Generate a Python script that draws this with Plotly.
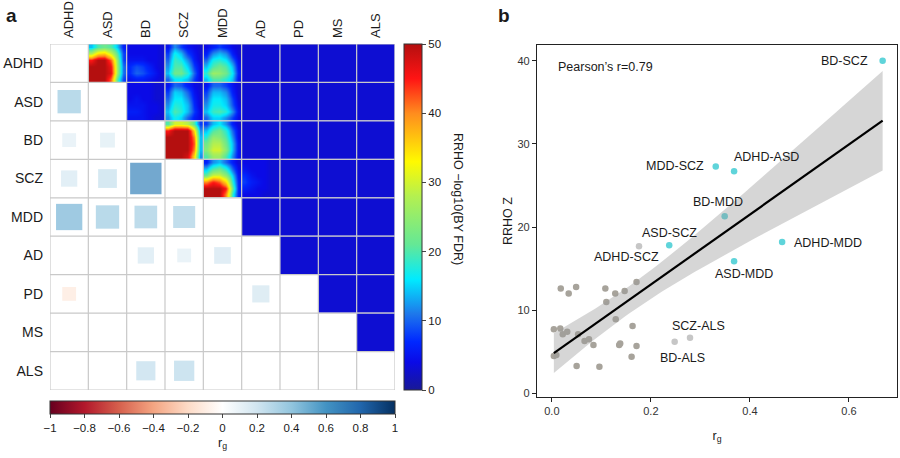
import numpy as np
import plotly.graph_objects as go

FONT = "Liberation Sans, Arial, sans-serif"

traits = ["ADHD", "ASD", "BD", "SCZ", "MDD", "AD", "PD", "MS", "ALS"]

# ---------------------------------------------------------------------------
# panel a, lower triangle: genetic correlation r_g (only the pairs drawn)
# ---------------------------------------------------------------------------
rg_row = ["ASD", "BD", "BD", "SCZ", "SCZ", "SCZ", "MDD", "MDD", "MDD", "MDD",
          "AD", "AD", "AD", "PD", "PD", "ALS", "ALS"]
rg_col = ["ADHD", "ADHD", "ASD", "ADHD", "ASD", "BD", "ADHD", "ASD", "BD", "SCZ",
          "BD", "SCZ", "MDD", "ADHD", "AD", "BD", "SCZ"]
rg_val = [0.37, 0.13, 0.15, 0.18, 0.24, 0.67, 0.47, 0.37, 0.35, 0.33,
          0.18, 0.13, 0.19, -0.13, 0.20, 0.25, 0.28]

# ---------------------------------------------------------------------------
# panel a, upper triangle: RRHO -log10(BY FDR) maps, 6x6 read off each cell
# (top row first); every other cell is flat at the background level
# ---------------------------------------------------------------------------
rrho_background = 3

rrho_adhd_asd = [[14, 20, 22, 20, 14, 6],
                 [28, 35, 36, 30, 20, 8],
                 [45, 50, 50, 42, 24, 8],
                 [50, 50, 50, 46, 25, 10],
                 [50, 50, 50, 47, 25, 10],
                 [50, 50, 50, 42, 20, 8]]
rrho_adhd_bd = [[4, 4, 4, 4, 4, 3],
                [4, 4, 4, 4, 4, 3],
                [5, 5, 5, 4, 4, 3],
                [7, 9, 8, 6, 4, 3],
                [7, 10, 9, 7, 5, 3],
                [5, 6, 6, 5, 4, 3]]
rrho_adhd_scz = [[5, 12, 8, 5, 4, 3],
                 [8, 17, 14, 8, 5, 3],
                 [10, 19, 17, 12, 6, 3],
                 [12, 20, 20, 15, 8, 4],
                 [14, 22, 22, 18, 10, 4],
                 [10, 16, 16, 14, 8, 4]]
rrho_adhd_mdd = [[4, 6, 8, 6, 4, 3],
                 [6, 12, 14, 12, 6, 3],
                 [10, 17, 18, 16, 10, 4],
                 [14, 20, 22, 20, 14, 5],
                 [18, 26, 25, 22, 16, 6],
                 [14, 20, 20, 18, 14, 5]]
rrho_asd_bd = [[4, 4, 4, 4, 3, 3],
               [4, 4, 4, 4, 3, 3],
               [4, 5, 4, 4, 3, 3],
               [5, 5, 5, 4, 4, 3],
               [6, 6, 5, 4, 4, 3],
               [5, 5, 5, 4, 3, 3]]
rrho_asd_scz = [[5, 10, 9, 6, 4, 3],
                [8, 15, 14, 10, 5, 3],
                [10, 16, 16, 12, 6, 3],
                [12, 18, 17, 14, 7, 3],
                [14, 20, 18, 14, 8, 4],
                [12, 17, 15, 10, 6, 4]]
rrho_asd_mdd = [[5, 10, 10, 8, 5, 3],
                [8, 14, 14, 12, 6, 3],
                [10, 16, 16, 14, 8, 3],
                [12, 17, 17, 15, 9, 4],
                [14, 19, 20, 18, 12, 5],
                [10, 15, 15, 12, 8, 4]]
rrho_bd_scz = [[20, 30, 30, 28, 20, 8],
               [45, 50, 50, 50, 35, 12],
               [50, 50, 50, 50, 40, 14],
               [50, 50, 50, 50, 42, 14],
               [50, 50, 50, 50, 40, 14],
               [50, 50, 50, 48, 35, 12]]
rrho_bd_mdd = [[8, 14, 16, 12, 6, 3],
               [14, 20, 22, 18, 10, 4],
               [18, 25, 24, 20, 12, 4],
               [22, 28, 28, 22, 14, 5],
               [24, 30, 30, 24, 14, 5],
               [20, 26, 26, 20, 12, 5]]
rrho_scz_mdd = [[6, 12, 14, 10, 6, 3],
                [14, 20, 22, 18, 10, 4],
                [22, 30, 30, 25, 15, 5],
                [40, 45, 42, 35, 18, 6],
                [50, 50, 50, 45, 22, 6],
                [50, 50, 50, 40, 18, 6]]
rrho_scz_ad = [[4, 4, 4, 4, 3, 3],
               [5, 4, 4, 4, 3, 3],
               [7, 5, 4, 4, 3, 3],
               [8, 6, 5, 4, 3, 3],
               [6, 5, 4, 4, 3, 3],
               [4, 4, 4, 3, 3, 3]]

rrho_maps = {
    ("ADHD", "ASD"): rrho_adhd_asd, ("ADHD", "BD"): rrho_adhd_bd,
    ("ADHD", "SCZ"): rrho_adhd_scz, ("ADHD", "MDD"): rrho_adhd_mdd,
    ("ASD", "BD"): rrho_asd_bd, ("ASD", "SCZ"): rrho_asd_scz,
    ("ASD", "MDD"): rrho_asd_mdd, ("BD", "SCZ"): rrho_bd_scz,
    ("BD", "MDD"): rrho_bd_mdd, ("SCZ", "MDD"): rrho_scz_mdd,
    ("SCZ", "AD"): rrho_scz_ad,
}

# ---------------------------------------------------------------------------
# panel b: r_g vs RRHO Z
# ---------------------------------------------------------------------------
sig_pairs = ["BD-SCZ", "MDD-SCZ", "ADHD-ASD", "BD-MDD", "ASD-SCZ", "ADHD-MDD", "ASD-MDD"]
sig_rg = [0.668, 0.331, 0.368, 0.349, 0.237, 0.465, 0.368]
sig_z = [40.0, 27.3, 26.7, 21.3, 17.8, 18.2, 15.9]

lab_pairs = ["ADHD-SCZ", "SCZ-ALS", "BD-ALS"]
lab_rg = [0.176, 0.279, 0.248]
lab_z = [17.7, 6.7, 6.2]

other_rg = [0.018, 0.034, 0.049, 0.108, 0.128, 0.147, 0.171, 0.110, 0.129, 0.163,
            0.004, 0.017, 0.022, 0.031, 0.053, 0.066, 0.075, 0.084, 0.136, 0.138,
            0.171, 0.004, 0.009, 0.161, 0.050, 0.096]
other_z = [12.6, 12.0, 12.8, 12.6, 12.0, 12.3, 13.4, 11.0, 8.9, 8.1,
           7.7, 7.8, 7.1, 7.4, 7.1, 6.3, 6.5, 5.8, 5.8, 6.0,
           5.7, 4.5, 4.6, 4.4, 3.3, 3.2]

# label placement next to each point: (xanchor, xshift px, yshift px)
label_pos = {
    "BD-SCZ": ("right", -13, 0), "MDD-SCZ": ("right", -10, 0),
    "ADHD-ASD": ("left", -2, 14), "BD-MDD": ("center", -7, 14),
    "ASD-SCZ": ("center", 0, 12), "ADHD-MDD": ("left", 10, -1),
    "ASD-MDD": ("center", 10, -13), "ADHD-SCZ": ("center", -13, -11),
    "SCZ-ALS": ("center", 8, 12), "BD-ALS": ("center", 8, -16),
}

jet = [[0.0, "rgb(25,25,150)"], [0.08, "rgb(10,10,230)"], [0.14, "rgb(0,40,255)"],
       [0.22, "rgb(30,120,235)"], [0.32, "rgb(0,235,255)"], [0.42, "rgb(100,232,150)"],
       [0.56, "rgb(180,240,80)"], [0.66, "rgb(255,250,0)"], [0.8, "rgb(255,140,30)"],
       [0.9, "rgb(255,20,20)"], [1.0, "rgb(180,15,15)"]]
rdbu = [[0.0, "rgb(103,0,31)"], [0.1, "rgb(178,24,43)"], [0.2, "rgb(214,96,77)"],
        [0.3, "rgb(244,165,130)"], [0.4, "rgb(253,219,199)"], [0.5, "rgb(255,255,255)"],
        [0.6, "rgb(209,229,240)"], [0.7, "rgb(146,197,222)"], [0.8, "rgb(67,147,195)"],
        [0.9, "rgb(33,102,172)"], [1.0, "rgb(5,48,97)"]]

W, H = 900, 458
a_left, a_right, a_top, a_bottom = 50, 395, 44, 390
cell_px = (a_right - a_left) / len(traits)

fig = go.Figure()

# RRHO maps, one heatmap per upper cell
idx = {t: k for k, t in enumerate(traits)}
for i, r in enumerate(traits):
    for j, c in enumerate(traits):
        if j <= i:
            continue
        grid = rrho_maps.get((r, c), [[rrho_background]])
        n = len(grid)
        d = 1.0 / n
        fig.add_trace(go.Heatmap(
            z=grid, x0=j - 0.5 + d / 2, dx=d, y0=i - 0.5 + d / 2, dy=d,
            zsmooth="best" if n > 1 else False, coloraxis="coloraxis",
            xaxis="x", yaxis="y", hoverinfo="skip"))

# r_g squares, side ~ sqrt(|r_g|)
fig.add_trace(go.Scatter(
    x=[idx[c] for c in rg_col], y=[idx[r] for r in rg_row], mode="markers",
    marker=dict(symbol="square", size=[np.sqrt(abs(v)) * cell_px for v in rg_val],
                color=rg_val, coloraxis="coloraxis2", line=dict(width=0)),
    xaxis="x", yaxis="y", showlegend=False,
    hovertemplate="r_g=%{marker.color}<extra></extra>"))

# cell grid
grid_shapes = []
for k in range(len(traits) + 1):
    p = k - 0.5
    grid_shapes.append(dict(type="line", xref="x", yref="y", x0=p, x1=p, y0=-0.5, y1=8.5,
                            line=dict(color="#c9c9c9", width=1.2), layer="above"))
    grid_shapes.append(dict(type="line", xref="x", yref="y", x0=-0.5, x1=8.5, y0=p, y1=p,
                            line=dict(color="#c9c9c9", width=1.2), layer="above"))

# panel b -------------------------------------------------------------------
all_rg = np.array(sig_rg + lab_rg + other_rg)
all_z = np.array(sig_z + lab_z + other_z)
slope, intercept = np.polyfit(all_rg, all_z, 1)
n_pts = len(all_rg)
resid = all_z - (slope * all_rg + intercept)
s = np.sqrt(np.sum(resid ** 2) / (n_pts - 2))
sxx = np.sum((all_rg - all_rg.mean()) ** 2)
t_crit = 2.032  # t(0.975, df=34)
xs = np.linspace(all_rg.min(), all_rg.max(), 80)
ys = slope * xs + intercept
se = s * np.sqrt(1 / n_pts + (xs - all_rg.mean()) ** 2 / sxx)
r_val = np.corrcoef(all_rg, all_z)[0, 1]

fig.add_trace(go.Scatter(x=other_rg, y=other_z, mode="markers", xaxis="x2", yaxis="y2",
                         marker=dict(size=6.5, color="#a7a39b"), showlegend=False))
fig.add_trace(go.Scatter(x=lab_rg, y=lab_z, mode="markers", xaxis="x2", yaxis="y2",
                         marker=dict(size=6.5, color="#c6c6c6"), showlegend=False))
fig.add_trace(go.Scatter(x=sig_rg, y=sig_z, mode="markers", xaxis="x2", yaxis="y2",
                         marker=dict(size=6.5, color="#5fd4da"), showlegend=False))
fig.add_trace(go.Scatter(x=np.concatenate([xs, xs[::-1]]),
                         y=np.concatenate([ys + t_crit * se, (ys - t_crit * se)[::-1]]),
                         fill="toself", fillcolor="rgba(153,153,153,0.4)",
                         line=dict(width=0), mode="lines", xaxis="x2", yaxis="y2",
                         showlegend=False, hoverinfo="skip"))
fig.add_trace(go.Scatter(x=xs, y=ys, mode="lines", line=dict(color="black", width=2.2),
                         xaxis="x2", yaxis="y2", showlegend=False, hoverinfo="skip"))

annotations = [
    dict(text="<b>a</b>", x=4 / W, y=1 - 15 / H, xref="paper", yref="paper",
         xanchor="left", yanchor="middle", showarrow=False, font=dict(size=19)),
    dict(text="<b>b</b>", x=496 / W, y=1 - 15 / H, xref="paper", yref="paper",
         xanchor="left", yanchor="middle", showarrow=False, font=dict(size=19)),
    dict(text=f"Pearson’s r={r_val:.2f}", x=0.009, y=39.2, xref="x2", yref="y2",
         xanchor="left", yanchor="middle", showarrow=False, font=dict(size=12.5)),
    dict(text="RRHO −log10(BY FDR)", x=458 / W, y=1 - 199 / H, xref="paper", yref="paper",
         textangle=90, showarrow=False, font=dict(size=12.5)),
]
for names, xv, yv in [(sig_pairs, sig_rg, sig_z), (lab_pairs, lab_rg, lab_z)]:
    for name, xx, yy in zip(names, xv, yv):
        anchor, dx, dy = label_pos[name]
        annotations.append(dict(text=name, x=xx, y=yy, xref="x2", yref="y2",
                                xanchor=anchor, yanchor="middle", xshift=dx, yshift=dy,
                                showarrow=False, font=dict(size=12.5)))

fig.update_layout(
    width=W, height=H, margin=dict(l=0, r=0, t=0, b=0, autoexpand=False),
    paper_bgcolor="white", plot_bgcolor="white",
    font=dict(family=FONT, color="#1a1a1a", size=12),
    showlegend=False,
    xaxis=dict(domain=[a_left / W, a_right / W], range=[-0.5, 8.5], side="top",
               tickvals=list(range(len(traits))), ticktext=traits, tickangle=-90,
               showgrid=False, zeroline=False, showline=False, ticks="",
               ticklabelstandoff=5, automargin=False,
               tickfont=dict(size=13), anchor="y", fixedrange=True),
    yaxis=dict(domain=[1 - a_bottom / H, 1 - a_top / H], range=[8.5, -0.5],
               tickvals=list(range(len(traits))), ticktext=traits,
               showgrid=False, zeroline=False, showline=False, ticks="",
               ticklabelstandoff=6, automargin=False,
               tickfont=dict(size=14), anchor="x", fixedrange=True),
    xaxis2=dict(domain=[537 / W, 897 / W], range=[-0.03, 0.697], anchor="y2",
                tickvals=[0, 0.2, 0.4, 0.6], tickformat=".1f", automargin=False,
                showgrid=False, zeroline=False, showline=True, mirror=True,
                linecolor="#222222", linewidth=1.3, ticks="outside", ticklen=4,
                tickcolor="#222222", tickfont=dict(size=11, color="#333333"),
                title=dict(text="r<sub>g</sub>", font=dict(size=12.5), standoff=14)),
    yaxis2=dict(domain=[1 - 397 / H, 1 - 45 / H], range=[-0.44, 41.9], anchor="x2",
                tickvals=[0, 10, 20, 30, 40], automargin=False,
                showgrid=False, zeroline=False, showline=True, mirror=True,
                linecolor="#222222", linewidth=1.3, ticks="outside", ticklen=4,
                tickcolor="#222222", tickfont=dict(size=11, color="#333333"),
                title=dict(text="RRHO Z", font=dict(size=12.5), standoff=2)),
    coloraxis=dict(
        colorscale=jet, cmin=0, cmax=50,
        colorbar=dict(x=404 / W, xanchor="left", y=1 - 217 / H, yanchor="middle",
                      len=(a_bottom - a_top) / H, lenmode="fraction", thickness=18,
                      xpad=0, ypad=0, outlinewidth=1, outlinecolor="#333333",
                      tickvals=[0, 10, 20, 30, 40, 50], ticks="outside", ticklen=4,
                      tickfont=dict(size=11.5))),
    coloraxis2=dict(
        colorscale=rdbu, cmin=-1, cmax=1,
        colorbar=dict(orientation="h", x=(a_left + a_right) / 2 / W, xanchor="center",
                      y=1 - 401 / H, yanchor="top", len=(a_right - a_left) / W,
                      lenmode="fraction", thickness=13, xpad=0, ypad=0,
                      outlinewidth=1, outlinecolor="#333333",
                      tickvals=[-1, -0.8, -0.6, -0.4, -0.2, 0, 0.2, 0.4, 0.6, 0.8, 1],
                      ticks="outside", ticklen=4, tickfont=dict(size=11.5),
                      title=dict(text="r<sub>g</sub>", side="bottom", font=dict(size=12.5)))),
    shapes=grid_shapes,
    annotations=annotations,
)

# the page body keeps the browser's default 8px margin otherwise
fig.write_html("out.html", config={"displayModeBar": False},
               post_script="document.body.style.margin='0';")
